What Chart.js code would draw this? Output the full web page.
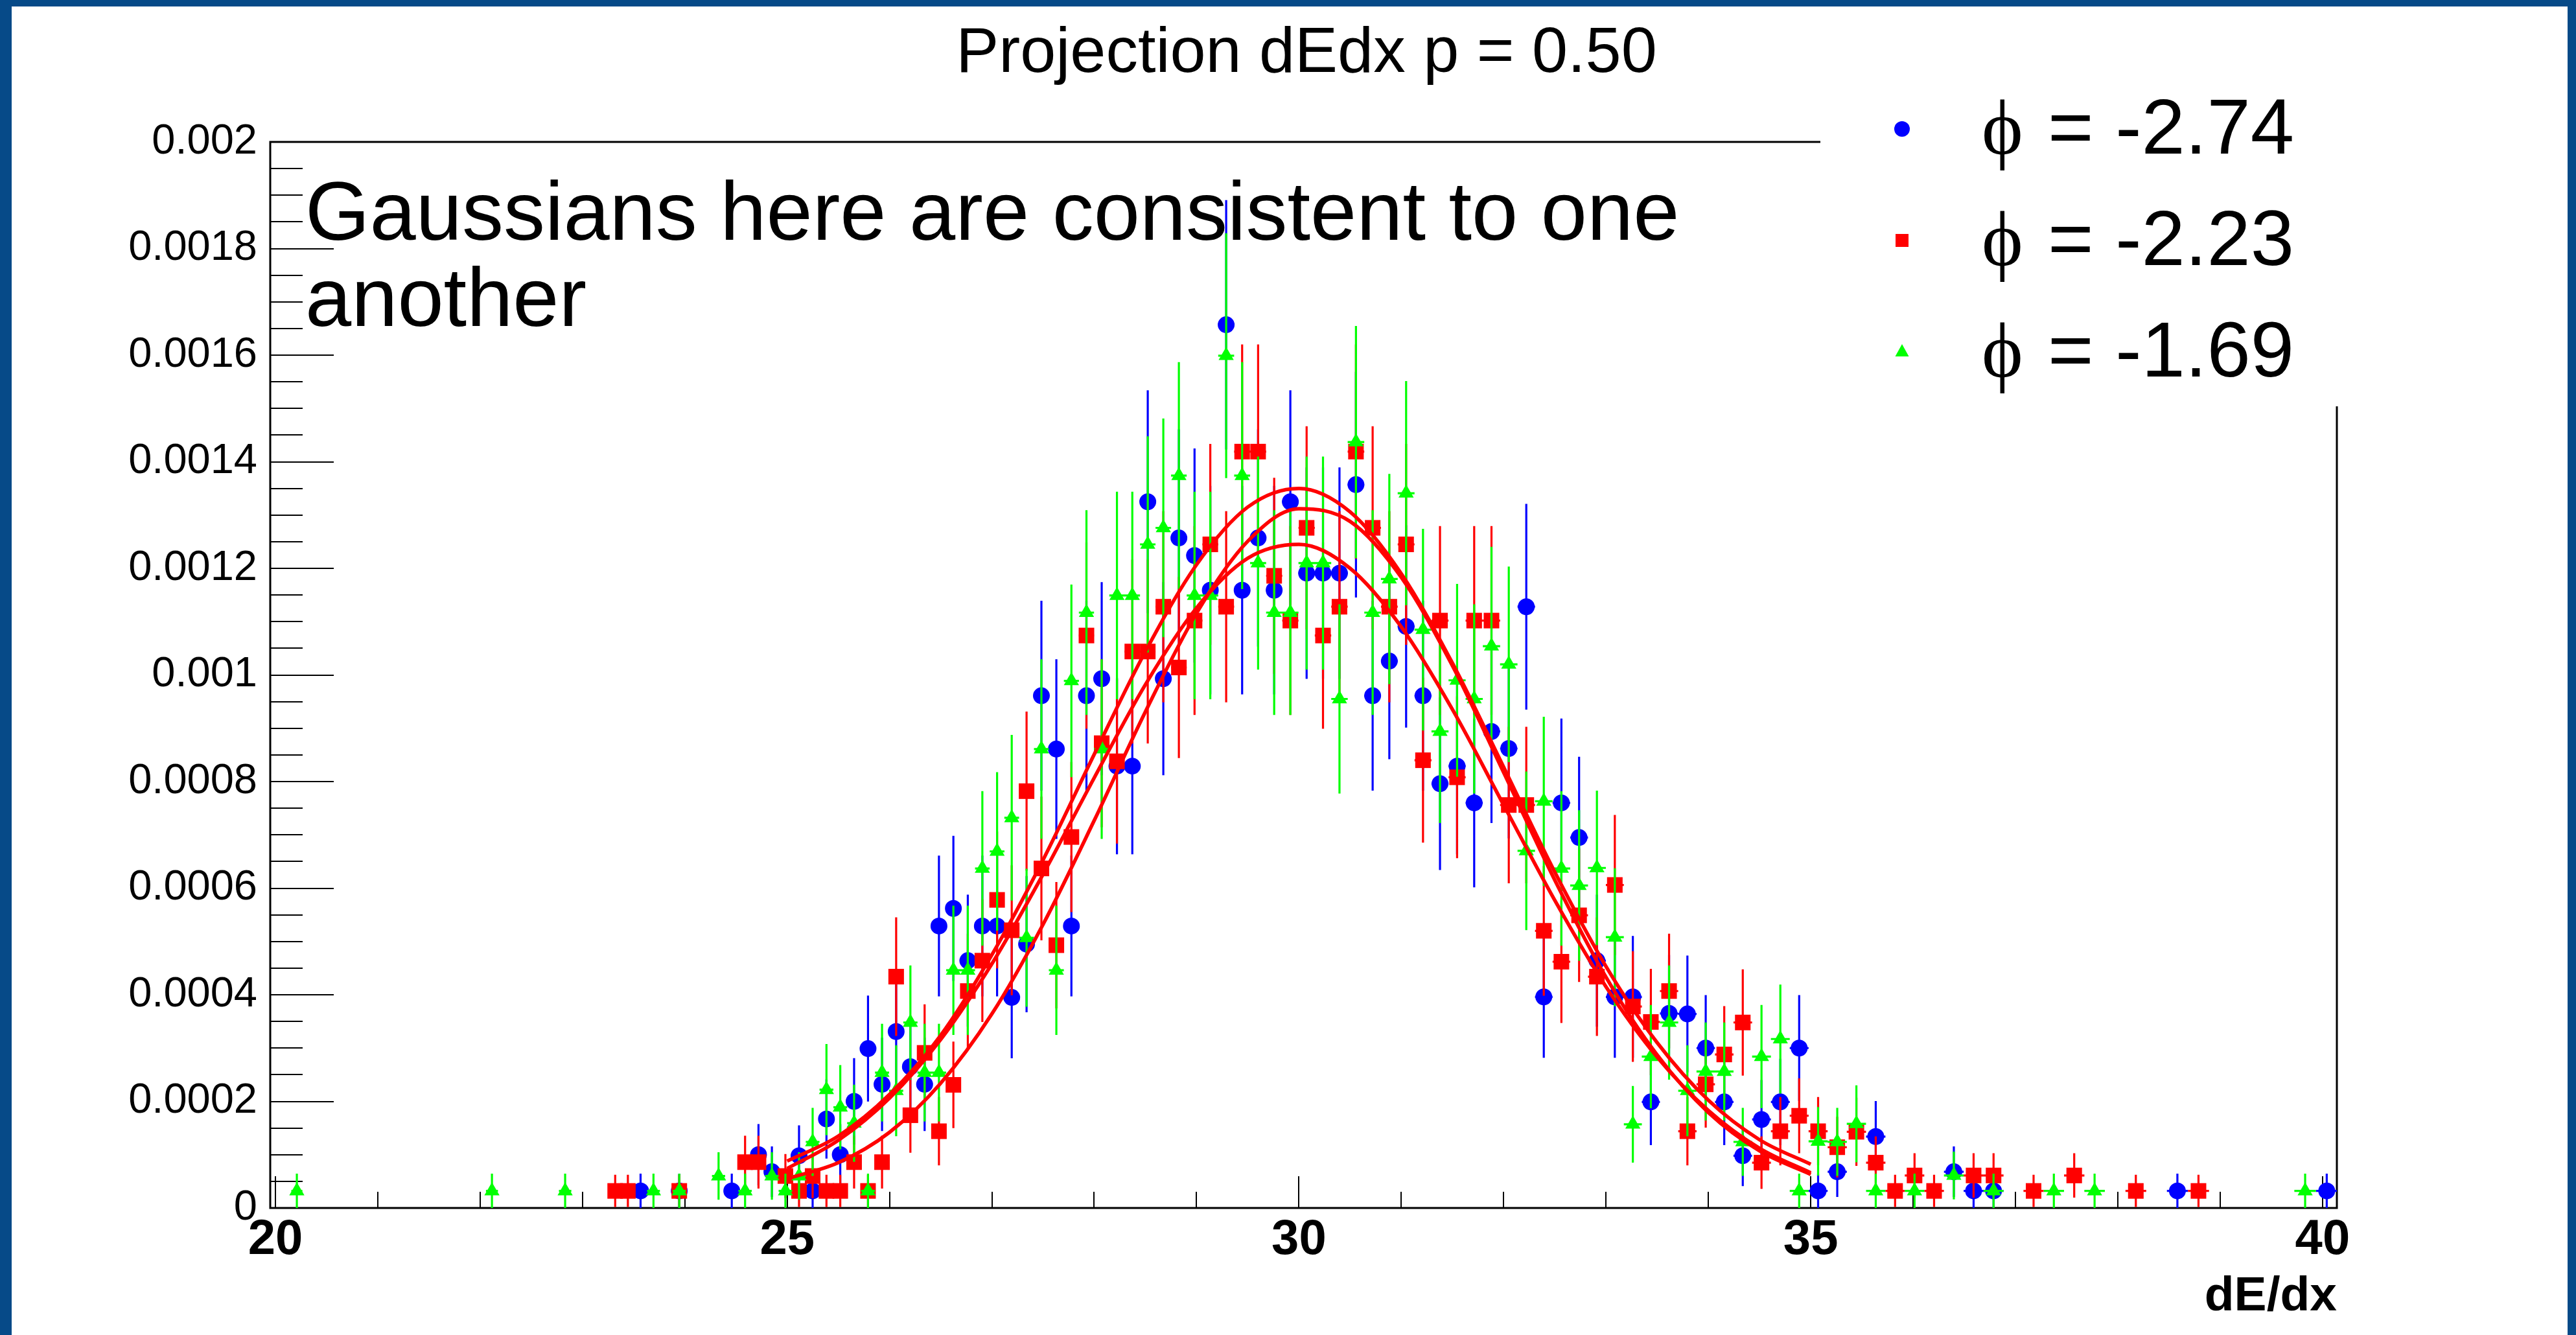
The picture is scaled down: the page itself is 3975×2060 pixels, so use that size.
<!DOCTYPE html>
<html>
<head>
<meta charset="utf-8">
<script src="https://cdn.jsdelivr.net/npm/chart.js@4.4.1/dist/chart.umd.min.js"></script>
<style>
html,body{margin:0;padding:0;background:#fff;overflow:hidden}
canvas{display:block}
</style>
</head>
<body>
<canvas id="c" width="3975" height="2060"></canvas>
<script>
const _ = null;
// histogram bin centres (dE/dx)
const binCenters = [
 20.210,20.318,20.426,20.534,20.643,20.753,20.863,20.974,21.086,21.198,
 21.310,21.424,21.538,21.652,21.767,21.883,21.999,22.116,22.233,22.352,
 22.470,22.590,22.710,22.831,22.952,23.074,23.197,23.320,23.444,23.568,
 23.694,23.819,23.946,24.073,24.201,24.330,24.459,24.589,24.720,24.851,
 24.983,25.116,25.249,25.384,25.519,25.654,25.790,25.927,26.065,26.204,
 26.343,26.483,26.624,26.765,26.907,27.051,27.194,27.339,27.484,27.630,
 27.777,27.924,28.073,28.222,28.372,28.523,28.675,28.827,28.980,29.134,
 29.289,29.445,29.601,29.758,29.916,30.075,30.235,30.396,30.557,30.720,
 30.883,31.047,31.212,31.378,31.545,31.712,31.881,32.050,32.221,32.392,
 32.564,32.737,32.911,33.086,33.262,33.438,33.616,33.795,33.974,34.155,
 34.336,34.519,34.703,34.887,35.072,35.259,35.446,35.635,35.824,36.014,
 36.205,36.398,36.591,36.786,36.981,37.177,37.375,37.574,37.773,37.974,
 38.176,38.379,38.582,38.788,38.994,39.201,39.410,39.619,39.830,40.041];

// phi = -2.74 (blue circles)
const blueValues = [
 _,_,_,_,_,_,_,_,_,_,
 _,_,_,_,_,_,_,_,_,_,
 _,_,_,_,_,_,_,_,_,0.32e-4,
 _,_,0.32e-4,_,_,_,0.32e-4,_,1.00e-4,0.68e-4,
 _,0.98e-4,0.32e-4,1.67e-4,1.00e-4,2.00e-4,2.99e-4,2.32e-4,3.31e-4,2.65e-4,
 2.32e-4,5.29e-4,5.62e-4,4.64e-4,5.29e-4,5.29e-4,3.95e-4,4.95e-4,9.61e-4,8.61e-4,
 5.29e-4,9.61e-4,9.93e-4,8.29e-4,8.29e-4,13.25e-4,9.93e-4,12.57e-4,12.24e-4,11.59e-4,
 16.57e-4,11.59e-4,12.57e-4,11.59e-4,13.25e-4,11.91e-4,11.91e-4,11.91e-4,13.57e-4,9.61e-4,
 10.26e-4,10.91e-4,9.61e-4,7.96e-4,8.29e-4,7.60e-4,8.94e-4,8.62e-4,11.28e-4,3.96e-4,
 7.60e-4,6.95e-4,4.64e-4,3.96e-4,3.96e-4,1.99e-4,3.65e-4,3.64e-4,3.00e-4,1.99e-4,
 0.98e-4,1.66e-4,1.99e-4,3.00e-4,0.32e-4,0.68e-4,_,1.34e-4,_,_,
 _,0.68e-4,0.32e-4,0.32e-4,_,_,_,_,_,_,
 _,_,0.32e-4,_,_,_,_,_,_,0.32e-4];

// phi = -2.23 (red squares)
const redValues = [
 _,_,_,_,_,_,_,_,_,_,
 _,_,_,_,_,_,_,_,_,_,
 _,_,_,_,_,_,_,0.32e-4,0.32e-4,_,
 _,_,0.32e-4,_,_,_,_,0.86e-4,0.86e-4,_,
 0.60e-4,0.32e-4,0.60e-4,0.32e-4,0.32e-4,0.86e-4,0.32e-4,0.86e-4,4.34e-4,1.74e-4,
 2.91e-4,1.44e-4,2.31e-4,4.07e-4,4.64e-4,5.78e-4,5.21e-4,7.82e-4,6.37e-4,4.93e-4,
 6.96e-4,10.74e-4,8.72e-4,8.38e-4,10.44e-4,10.44e-4,11.28e-4,10.14e-4,11.02e-4,12.45e-4,
 11.28e-4,14.19e-4,14.19e-4,11.86e-4,11.02e-4,12.76e-4,10.74e-4,11.28e-4,14.19e-4,12.76e-4,
 11.28e-4,12.45e-4,8.40e-4,11.02e-4,8.08e-4,11.02e-4,11.02e-4,7.56e-4,7.56e-4,5.20e-4,
 4.62e-4,5.49e-4,4.34e-4,6.06e-4,3.78e-4,3.49e-4,4.07e-4,1.44e-4,2.32e-4,2.88e-4,
 3.48e-4,0.85e-4,1.44e-4,1.73e-4,1.44e-4,1.14e-4,1.43e-4,0.85e-4,0.32e-4,0.61e-4,
 0.32e-4,_,0.61e-4,0.61e-4,_,0.32e-4,_,0.61e-4,_,_,
 0.32e-4,_,_,0.32e-4,_,_,_,_,_,_];

// phi = -1.69 (green triangles)
const greenValues = [
 0.32e-4,_,_,_,_,_,_,_,_,_,
 _,_,_,_,_,_,_,0.32e-4,_,_,
 _,_,_,0.32e-4,_,_,_,_,_,_,
 0.32e-4,_,0.32e-4,_,_,0.60e-4,_,0.32e-4,_,0.60e-4,
 0.32e-4,0.60e-4,1.24e-4,2.22e-4,1.89e-4,1.59e-4,0.32e-4,2.54e-4,2.20e-4,3.48e-4,
 2.54e-4,2.54e-4,4.46e-4,4.46e-4,6.37e-4,6.69e-4,7.32e-4,5.07e-4,8.61e-4,4.46e-4,
 9.89e-4,11.17e-4,8.61e-4,11.49e-4,11.49e-4,12.45e-4,12.76e-4,13.74e-4,11.49e-4,11.49e-4,
 15.99e-4,13.74e-4,12.10e-4,11.17e-4,11.17e-4,12.10e-4,12.10e-4,9.55e-4,14.37e-4,11.17e-4,
 11.80e-4,13.41e-4,10.85e-4,8.94e-4,9.90e-4,9.55e-4,10.54e-4,10.20e-4,6.70e-4,7.63e-4,
 6.37e-4,6.05e-4,6.38e-4,5.08e-4,1.57e-4,2.84e-4,3.48e-4,2.20e-4,2.56e-4,2.56e-4,
 1.24e-4,2.84e-4,3.17e-4,0.32e-4,1.25e-4,1.24e-4,1.58e-4,0.32e-4,_,0.32e-4,
 _,0.61e-4,_,0.32e-4,_,_,0.32e-4,_,0.32e-4,_,
 _,_,_,_,_,_,_,_,0.32e-4,_];

const fitX = [25,25.5,26,26.5,27,27.5,28,28.5,29,29.5,30,30.5,31,31.5,32,32.5,33,33.5,34,34.5,35];
const fitA = [0.88e-4,1.35e-4,2.13e-4,3.24e-4,4.75e-4,6.53e-4,8.51e-4,10.44e-4,12.07e-4,13.15e-4,13.50e-4,13.06e-4,11.90e-4,10.22e-4,8.27e-4,6.30e-4,4.53e-4,3.10e-4,2.02e-4,1.28e-4,0.82e-4];
const fitB = [0.55e-4,0.85e-4,1.42e-4,2.34e-4,3.64e-4,5.32e-4,7.27e-4,9.31e-4,11.16e-4,12.51e-4,13.12e-4,12.88e-4,11.83e-4,10.17e-4,8.17e-4,6.15e-4,4.33e-4,2.87e-4,1.79e-4,1.07e-4,0.63e-4];
const fitC = [0.74e-4,1.27e-4,2.06e-4,3.16e-4,4.58e-4,6.26e-4,8.07e-4,9.82e-4,11.26e-4,12.19e-4,12.45e-4,12.00e-4,10.90e-4,9.35e-4,7.56e-4,5.77e-4,4.15e-4,2.83e-4,1.83e-4,1.12e-4,0.66e-4];

// per-entry weight of each histogram (Poisson error = sqrt(value*weight))
const countWeight = [0.33e-4, 0.285e-4, 0.33e-4];
const seriesNames = ['\u03D5 = -2.74', '\u03D5 = -2.23', '\u03D5 = -1.69'];

const xTicks = [20,25,30,35,40];
const xTickLabels = ['20','25','30','35','40'];
const yTicks = [0,0.0002,0.0004,0.0006,0.0008,0.001,0.0012,0.0014,0.0016,0.0018,0.002];
const yTickLabels = ['0','0.0002','0.0004','0.0006','0.0008','0.001','0.0012','0.0014','0.0016','0.0018','0.002'];
const chartTitle = 'Projection dEdx p = 0.50';
const xTitle = 'dE/dx';
const noteLines = ['Gaussians here are consistent to one', 'another'];

const SANS = '"Liberation Sans", Arial, Helvetica, sans-serif';
const SERIF = '"Liberation Serif", "DejaVu Serif", "Times New Roman", serif';
const COLORS = ['#0000ff', '#ff0000', '#00ff00'];

function histPoints(values) {
  const pts = [];
  const n = binCenters.length;
  values.forEach((v, i) => {
    if (v === null) return;
    const lo = binCenters[Math.max(i - 1, 0)], hi = binCenters[Math.min(i + 1, n - 1)];
    const hw = (hi - lo) / ((i === 0 || i === n - 1) ? 2 : 4);
    pts.push({x: binCenters[i], y: v, hw: hw});
  });
  return pts;
}
function fitPoints(vals) { return fitX.map((x, i) => ({x: x, y: vals[i]})); }

const histDefs = [
  {values: blueValues, style: 'circle', radius: 13, order: 6},
  {values: redValues, style: 'rect', radius: 17, order: 5},
  {values: greenValues, style: 'triangle', radius: 13.5, order: 4}
];
const datasets = histDefs.map((d, i) => ({
  label: seriesNames[i],
  data: histPoints(d.values),
  isHist: true,
  weight: countWeight[i],
  pointStyle: d.style,
  pointRadius: d.radius,
  pointBackgroundColor: COLORS[i],
  backgroundColor: COLORS[i],
  pointBorderWidth: 0,
  borderWidth: 0,
  showLine: false,
  order: d.order
}));
[fitA, fitB, fitC].forEach((f, i) => datasets.push({
  label: 'fit' + i,
  data: fitPoints(f),
  showLine: true,
  pointRadius: 0,
  borderColor: '#ff0000',
  borderWidth: 5.5,
  cubicInterpolationMode: 'monotone',
  fill: false,
  order: 3 - i
}));

const rootStyle = {
  id: 'rootStyle',
  beforeDatasetsDraw(chart) {
    const {ctx, chartArea: ca, scales: {x, y}} = chart;
    ctx.save();
    ctx.strokeStyle = '#000';
    ctx.lineCap = 'butt';
    // ticks
    ctx.lineWidth = 2;
    ctx.beginPath();
    for (let i = 0; i <= 40; i++) {
      const py = Math.round(y.getPixelForValue(i * 0.00005));
      const len = (i % 4 === 0) ? 98 : 50;
      ctx.moveTo(ca.left, py); ctx.lineTo(ca.left + len, py);
    }
    for (let v = 20; v <= 40; v++) {
      const px = Math.round(x.getPixelForValue(v));
      const len = (v % 5 === 0) ? 49 : 25;
      ctx.moveTo(px, ca.bottom); ctx.lineTo(px, ca.bottom - len);
    }
    ctx.stroke();
    // frame
    ctx.lineWidth = 3;
    ctx.beginPath();
    ctx.moveTo(ca.left, ca.top); ctx.lineTo(ca.right, ca.top); ctx.lineTo(ca.right, ca.bottom);
    ctx.lineTo(ca.left, ca.bottom); ctx.closePath();
    ctx.stroke();
    ctx.restore();
  },
  beforeDatasetDraw(chart, args) {
    const ds = chart.data.datasets[args.index];
    if (!ds.isHist) return;
    const {ctx, chartArea: ca, scales: {x, y}} = chart;
    ctx.save();
    ctx.beginPath();
    ctx.rect(ca.left, ca.top, ca.right - ca.left, ca.bottom - ca.top);
    ctx.clip();
    ctx.strokeStyle = ds.backgroundColor;
    ctx.lineWidth = 3.2;
    ctx.beginPath();
    ds.data.forEach(p => {
      const e = Math.sqrt(p.y * ds.weight);
      const px = x.getPixelForValue(p.x), py = y.getPixelForValue(p.y);
      ctx.moveTo(px, y.getPixelForValue(p.y - e)); ctx.lineTo(px, y.getPixelForValue(p.y + e));
      ctx.moveTo(x.getPixelForValue(p.x - p.hw), py); ctx.lineTo(x.getPixelForValue(p.x + p.hw), py);
    });
    ctx.stroke();
    ctx.restore();
  },
  afterDraw(chart) {
    const ctx = chart.ctx;
    ctx.save();
    // legend box (white, no border) over the frame corner
    ctx.fillStyle = '#fff';
    ctx.fillRect(2809, 140, 3960 - 2809, 627 - 140);
    const baselines = [237, 409, 581];
    const markerY = [199, 371, 543];
    const mx = 2935;
    // markers
    ctx.fillStyle = COLORS[0];
    ctx.beginPath(); ctx.arc(mx, markerY[0], 12, 0, Math.PI * 2); ctx.fill();
    ctx.fillStyle = COLORS[1];
    ctx.fillRect(mx - 10, markerY[1] - 10, 20, 20);
    ctx.fillStyle = COLORS[2];
    ctx.beginPath();
    ctx.moveTo(mx, markerY[2] - 12); ctx.lineTo(mx + 10.5, markerY[2] + 7); ctx.lineTo(mx - 10.5, markerY[2] + 7);
    ctx.closePath(); ctx.fill();
    // legend texts
    ctx.fillStyle = '#000';
    ctx.textBaseline = 'alphabetic';
    ctx.textAlign = 'left';
    seriesNames.forEach((name, i) => {
      ctx.font = '121px ' + SERIF;
      ctx.fillText(name.charAt(0), 3058, baselines[i]);
      ctx.font = '121px ' + SANS;
      ctx.fillText(name.slice(1).trim(), 3160, baselines[i]);
    });
    // title
    ctx.font = '99px ' + SANS;
    ctx.textAlign = 'center';
    ctx.fillText(chartTitle, 2016, 111);
    // x axis title
    ctx.font = 'bold 75px ' + SANS;
    ctx.textAlign = 'right';
    ctx.fillText(xTitle, 3606, 2022);
    // annotation
    ctx.font = '128px ' + SANS;
    ctx.textAlign = 'left';
    ctx.fillText(noteLines[0], 471, 370);
    ctx.fillText(noteLines[1], 471, 503);
    // slide border
    ctx.fillStyle = '#064a88';
    ctx.fillRect(0, 0, 3975, 10);
    ctx.fillRect(0, 0, 18, 2060);
    ctx.fillRect(3962, 0, 13, 2060);
    ctx.restore();
  }
};

Chart.defaults.font.family = SANS;
new Chart(document.getElementById('c'), {
  type: 'scatter',
  data: {datasets: datasets},
  options: {
    responsive: false,
    animation: false,
    devicePixelRatio: 1,
    events: [],
    layout: {padding: {left: 0, right: 369, top: 219, bottom: 0}},
    plugins: {legend: {display: false}, tooltip: {enabled: false}, title: {display: false}},
    scales: {
      x: {
        type: 'linear', min: 19.95, max: 40.14,
        afterFit(s) { s.height = 196; },
        afterBuildTicks(s) { s.ticks = xTicks.map(v => ({value: v})); },
        grid: {display: false, drawTicks: false},
        border: {display: false},
        ticks: {padding: 4, color: '#000', autoSkip: false, maxRotation: 0,
                font: {family: SANS, size: 76, weight: 'bold'},
                callback: (v, i) => xTickLabels[i]}
      },
      y: {
        type: 'linear', min: 0, max: 0.002,
        afterFit(s) { s.width = 417; },
        afterBuildTicks(s) { s.ticks = yTicks.map(v => ({value: v})); },
        grid: {display: false, drawTicks: false},
        border: {display: false},
        ticks: {padding: 20, color: '#000', autoSkip: false,
                font: {family: SANS, size: 65},
                callback: (v, i) => yTickLabels[i]}
      }
    }
  },
  plugins: [rootStyle]
});
</script>
</body>
</html>
